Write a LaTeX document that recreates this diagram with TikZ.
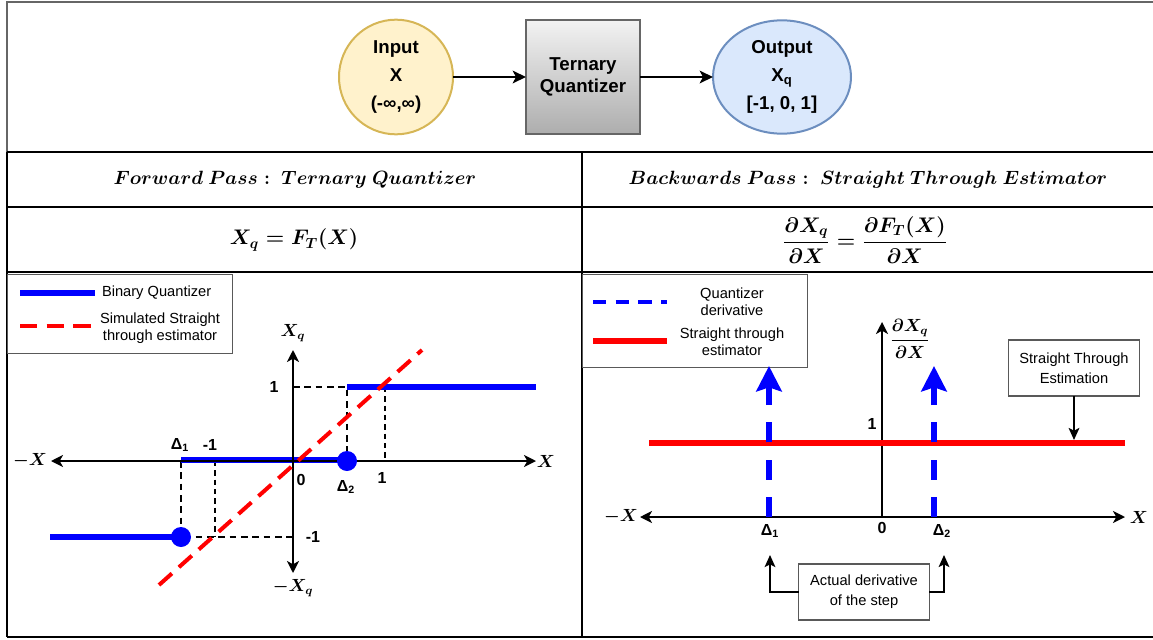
\documentclass[tikz,border=0pt]{standalone}
\usepackage{amsmath,bm}
\usepackage[no-math]{fontspec}
\setmainfont{Liberation Sans}
\usetikzlibrary{arrows.meta,shapes.geometric}
\definecolor{inyel}{HTML}{D6B656}
\definecolor{infill}{HTML}{FFF2CC}
\definecolor{outblue}{HTML}{6C8EBF}
\definecolor{outfill}{HTML}{DAE8FC}
\definecolor{qblue}{HTML}{0000FF}
\definecolor{qred}{HTML}{FF0000}
\begin{document}
\begin{tikzpicture}[x=0.75pt,y=-0.75pt,
  every node/.style={inner sep=0pt,outer sep=0pt},
  gridline/.style={line width=1.5pt,draw=black},
  flowfont/.style={font=\fontsize{14}{21}\selectfont\bfseries,align=center},
  flowarrow/.style={line width=1.5pt,-{Stealth[length=10pt,width=9.5pt,inset=2.5pt]}},
  hdr/.style={font=\fontsize{14.4}{17}\selectfont\boldmath},
  eqn/.style={font=\fontsize{14.4}{17}\selectfont\boldmath,transform shape,scale=1.1},
  legbox/.style={draw=black!65,line width=1pt,fill=white},
  legtext/.style={font=\fontsize{11}{13}\selectfont,align=center},
  tick/.style={font=\fontsize{12}{14}\selectfont\bfseries},
  axlab/.style={font=\fontsize{12}{14}\selectfont\boldmath,transform shape,scale=1.1},
  axis/.style={line width=1.5pt,{Stealth[length=9pt,width=9pt,inset=2.5pt]}-{Stealth[length=9pt,width=9pt,inset=2.5pt]}},
  axisup/.style={line width=1.5pt,-{Stealth[length=9pt,width=9pt,inset=2.5pt]}},
  bluethick/.style={line width=4.5pt,draw=qblue},
  redthick/.style={line width=4.5pt,draw=qred},
  reddash/.style={line width=3pt,draw=qred,dash pattern=on 13pt off 7pt},
  bluedash/.style={line width=2.5pt,draw=qblue,dash pattern=on 10pt off 7pt},
  bluearrow/.style={line width=5pt,draw=qblue,dash pattern=on 15pt off 13pt,-{Stealth[length=19pt,width=19pt,inset=3pt]}},
  dashblk/.style={line width=1.5pt,dash pattern=on 5pt off 3.5pt},
  dashthin/.style={line width=1pt,dash pattern=on 4pt off 3pt},
  dot/.style={circle,fill=qblue,minimum size=15pt},
  textbox/.style={draw=black!65,line width=1pt,fill=white,minimum width=98pt,minimum height=42pt,font=\fontsize{11}{15}\selectfont,align=center},
  smallarrow/.style={line width=1.5pt,-{Stealth[length=9pt,width=8pt,inset=2pt]}}
]
\useasboundingbox (0,0) rectangle (1153,639);

% ---------- frame ----------
\draw[line width=1pt,draw=black!60] (7,152) -- (7,2) -- (1153,2);
\draw[gridline] (7,152) -- (1153,152);
\draw[gridline] (7,207) -- (1153,207);
\draw[gridline] (7,272) -- (1153,272);
\draw[gridline] (7,637) -- (1153,637);
\draw[gridline] (7,152) -- (7,637);
\draw[gridline] (582,152) -- (582,637);

% ---------- top flow ----------
\node[ellipse,draw=inyel,fill=infill,line width=1.5pt,minimum width=85.5pt,minimum height=86pt,flowfont] (in) at (396,77) {Input\\X\\(-∞,∞)};
\node[rectangle,draw=black!60,line width=1.5pt,top color=black!5,bottom color=black!32,minimum width=85.5pt,minimum height=85.5pt,font=\fontsize{14}{17}\selectfont\bfseries,align=center] (tq) at (583,77) {Ternary\\Quantizer};
\node[ellipse,draw=outblue,fill=outfill,line width=1.5pt,minimum width=103.5pt,minimum height=85pt,flowfont] (out) at (782,77) {Output\\X\textsubscript{q}\\{}[-1, 0, 1]};
\draw[flowarrow] (in) -- (tq);
\draw[flowarrow] (tq) -- (out);

% ---------- headers ----------
\node[hdr] (fwd) at (295,180) {$Forward\ Pass:\ Ternary\ Quantizer$};
\node[hdr] (bwd) at (868,180) {$Backwards\ Pass:\ Straight\ Through\ Estimator$};
\node[eqn] (feq) at (294,240) {$X_q=F_T(X)$};
\node[eqn] (beq) at (865,240) {$\dfrac{\partial X_q}{\partial X}=\dfrac{\partial F_T(X)}{\partial X}$};

% ---------- left plot ----------
\node[legbox,minimum width=168.75pt,minimum height=59.25pt] (lleg) at (120,314) {};
\coordinate (lb1) at (20,293); \coordinate (lb2) at (95,293);
\draw[bluethick] (lb1) -- (lb2);
\node[legtext,anchor=west] (lbt) at (102,293) {Binary Quantizer};
\coordinate (lr1) at (20,326); \coordinate (lr2) at (95,326);
\draw[reddash] (lr1) -- (lr2);
\node[legtext] (lrt) at (160,328) {Simulated Straight\\through estimator};

\coordinate (lxl) at (51,461); \coordinate (lxr) at (536,461);
\coordinate (lyt) at (293,350); \coordinate (lyb) at (293,573);
\coordinate (p1) at (293,387); \coordinate (d2top) at (347,387);
\coordinate (d2) at (347,461);
\coordinate (d1) at (181,537); \coordinate (d1ax) at (181,461);
\coordinate (m1) at (293,537);
\coordinate (t1a) at (215,461); \coordinate (t1b) at (215,537);
\coordinate (t2a) at (385,387); \coordinate (t2b) at (385,461);

\draw[dashblk] (p1) -- (d2top) -- (d2);
\draw[dashblk] (d1ax) -- (d1) -- (m1);
\draw[dashthin] (t1a) -- (t1b);
\draw[dashthin] (t2a) -- (t2b);

\coordinate (bt2) at (536,387);
\coordinate (bm1) at (181,460); \coordinate (bm2) at (347,460);
\coordinate (bb1) at (50,537);
\draw[bluethick] (d2top) -- (bt2);
\draw[bluethick] (bm1) -- (bm2);
\draw[bluethick] (bb1) -- (d1);

\draw[axis] (lxl) -- (lxr);
\draw[axis] (lyt) -- (lyb);

\coordinate (rl1) at (159,585); \coordinate (rl2) at (422,350);
\draw[reddash] (rl1) -- (rl2);
\node[dot] (dot2) at (d2) {};
\node[dot] (dot1) at (d1) {};

\node[axlab] (lmx) at (30,461) {$-X$};
\node[axlab] (lpx) at (546,461) {$X$};
\node[axlab] (lpy) at (293,333) {$X_q$};
\node[axlab] (lmy) at (293,588) {$-X_q$};
\node[tick] (l1a) at (274,387) {1};
\node[tick] (lm1b) at (313,537) {-1};
\node[tick] (l0) at (301,480) {0};
\node[tick] (l1b) at (382,478) {1};
\node[tick] (lm1a) at (210,445) {-1};
\node[tick] (ld1) at (180,445) {Δ\textsubscript{1}};
\node[tick] (ld2) at (346,487) {Δ\textsubscript{2}};

% ---------- right plot ----------
\node[legbox,minimum width=168.75pt,minimum height=69.75pt] (rleg) at (695,321) {};
\coordinate (rb1) at (593,302); \coordinate (rb2) at (667,302);
\draw[bluedash] (rb1) -- (rb2);
\node[legtext] (rbt) at (732,302) {Quantizer\\derivative};
\coordinate (rr1) at (593,341); \coordinate (rr2) at (667,341);
\draw[redthick] (rr1) -- (rr2);
\node[legtext] (rrt) at (732,342) {Straight through\\estimator};

\coordinate (rxl) at (640,517); \coordinate (rxr) at (1125,517);
\coordinate (ro) at (882,517); \coordinate (ryt) at (882,322);
\draw[axis] (rxl) -- (rxr);
\draw[axisup] (ro) -- (ryt);

\coordinate (ste1) at (649,443); \coordinate (ste2) at (1125,443);
\draw[redthick] (ste1) -- (ste2);

\coordinate (q1b) at (769,517); \coordinate (q1t) at (769,366);
\coordinate (q2b) at (934,517); \coordinate (q2t) at (934,366);
\draw[bluearrow] (q1b) -- (q1t);
\draw[bluearrow] (q2b) -- (q2t);

\node[axlab] (rmx) at (621,517) {$-X$};
\node[axlab] (rpx) at (1139,517) {$X$};
\node[axlab] (rfy) at (910,339) {$\dfrac{\partial X_q}{\partial X}$};
\node[tick] (r1) at (872,424) {1};
\node[tick] (r0) at (882,528) {0};
\node[tick] (rd1) at (770,531) {Δ\textsubscript{1}};
\node[tick] (rd2) at (942,531) {Δ\textsubscript{2}};

\node[textbox] (ste) at (1074,368) {Straight Through\\Estimation};
\coordinate (stehit) at (1074,440);
\draw[smallarrow] (ste.south) -- (stehit);

\node[textbox] (act) at (864,592) {Actual derivative\\of the step};
\coordinate (a1) at (770,555); \coordinate (a2) at (944,555);
\draw[smallarrow] (act.west) -| (a1);
\draw[smallarrow] (act.east) -| (a2);
\end{tikzpicture}
\end{document}
